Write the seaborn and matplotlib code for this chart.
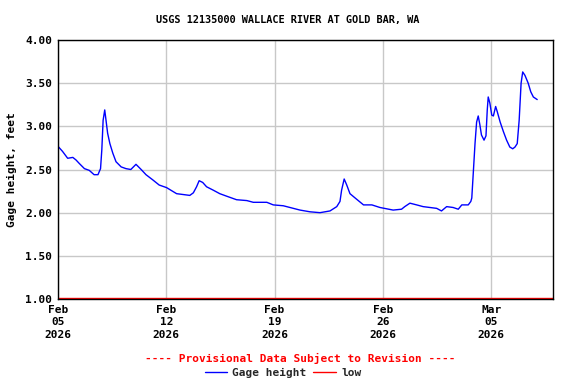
import pandas as pd
import seaborn as sns
import matplotlib.pyplot as plt
import matplotlib.dates as mdates
from matplotlib.lines import Line2D

# Datos (altura de aforo, pies)
fechas = [
    "2026-02-05 01:00", "2026-02-05 07:00", "2026-02-05 15:00", "2026-02-05 23:00",
    "2026-02-06 04:00", "2026-02-06 09:00", "2026-02-06 17:00", "2026-02-07 00:30",
    "2026-02-07 08:00", "2026-02-07 14:00", "2026-02-07 18:00", "2026-02-07 20:00",
    "2026-02-07 22:00", "2026-02-08 00:30", "2026-02-08 02:30", "2026-02-08 05:00",
    "2026-02-08 08:30", "2026-02-08 13:00", "2026-02-08 18:00", "2026-02-09 02:00",
    "2026-02-09 09:30", "2026-02-09 17:00", "2026-02-10 01:00", "2026-02-10 09:00",
    "2026-02-10 16:30", "2026-02-11 03:00", "2026-02-11 13:00", "2026-02-12 00:30",
    "2026-02-12 16:00", "2026-02-13 12:30", "2026-02-13 18:00", "2026-02-13 23:00",
    "2026-02-14 03:00", "2026-02-14 08:30", "2026-02-14 14:30", "2026-02-15 01:00",
    "2026-02-15 11:00", "2026-02-15 22:00", "2026-02-16 13:00", "2026-02-17 05:00",
    "2026-02-17 15:00", "2026-02-18 12:00", "2026-02-18 22:00", "2026-02-19 13:30",
    "2026-02-20 15:30", "2026-02-21 07:00", "2026-02-21 22:30", "2026-02-22 14:00",
    "2026-02-23 00:30", "2026-02-23 05:30", "2026-02-23 08:00", "2026-02-23 12:00",
    "2026-02-23 16:00", "2026-02-23 21:00", "2026-02-24 05:00", "2026-02-24 18:00",
    "2026-02-25 07:00", "2026-02-25 19:30", "2026-02-26 16:00", "2026-02-27 05:00",
    "2026-02-27 10:00", "2026-02-27 18:00", "2026-02-28 04:30", "2026-02-28 14:30",
    "2026-03-01 01:00", "2026-03-01 11:30", "2026-03-01 19:00", "2026-03-02 03:00",
    "2026-03-02 13:00", "2026-03-02 21:00", "2026-03-03 02:30", "2026-03-03 12:30",
    "2026-03-03 16:30", "2026-03-03 18:00", "2026-03-03 20:00", "2026-03-03 23:00",
    "2026-03-04 01:30", "2026-03-04 04:00", "2026-03-04 06:30", "2026-03-04 09:00",
    "2026-03-04 13:00", "2026-03-04 16:00", "2026-03-04 18:00", "2026-03-04 19:30",
    "2026-03-04 22:00", "2026-03-05 01:00", "2026-03-05 03:30", "2026-03-05 07:00",
    "2026-03-05 09:30", "2026-03-05 14:00", "2026-03-05 19:00", "2026-03-06 00:00",
    "2026-03-06 05:00", "2026-03-06 09:30", "2026-03-06 13:00", "2026-03-06 16:30",
    "2026-03-06 19:30", "2026-03-06 22:30", "2026-03-07 01:00", "2026-03-07 04:30",
    "2026-03-07 09:30", "2026-03-07 13:30", "2026-03-07 17:30", "2026-03-07 23:30",
]
altura = [
    2.76, 2.71, 2.63, 2.64, 2.61, 2.57, 2.51, 2.49,
    2.44, 2.44, 2.51, 2.73, 3.07, 3.19, 3.07, 2.92,
    2.80, 2.69, 2.59, 2.53, 2.51, 2.50, 2.56, 2.50,
    2.44, 2.38, 2.32, 2.29, 2.22, 2.20, 2.23, 2.30,
    2.37, 2.35, 2.30, 2.26, 2.22, 2.19, 2.15, 2.14,
    2.12, 2.12, 2.09, 2.08, 2.03, 2.01, 2.00, 2.02,
    2.07, 2.13, 2.26, 2.39, 2.32, 2.22, 2.17, 2.09,
    2.09, 2.06, 2.03, 2.04, 2.07, 2.11, 2.09, 2.07,
    2.06, 2.05, 2.02, 2.07, 2.06, 2.04, 2.09, 2.09,
    2.13, 2.17, 2.42, 2.80, 3.05, 3.12, 3.02, 2.90,
    2.84, 2.89, 3.19, 3.34, 3.27, 3.13, 3.12, 3.23,
    3.17, 3.05, 2.94, 2.84, 2.76, 2.74, 2.76, 2.80,
    3.07, 3.50, 3.63, 3.59, 3.50, 3.40, 3.34, 3.31,
]
fechas_bajo = ["2026-02-05 00:00", "2026-03-09 00:00"]
nivel_bajo = [1.015, 1.015]

ticks_x = ["2026-02-05", "2026-02-12", "2026-02-19", "2026-02-26", "2026-03-05"]
ticks_y = [1.00, 1.50, 2.00, 2.50, 3.00, 3.50, 4.00]

df = pd.DataFrame({"fecha": pd.to_datetime(fechas), "altura": altura})
df_bajo = pd.DataFrame({"fecha": pd.to_datetime(fechas_bajo), "altura": nivel_bajo})

# tema
sns.set_theme(style="whitegrid", rc={"grid.color": "#c8c8c8", "grid.linewidth": 1.0,
                                     "axes.edgecolor": "black", "axes.linewidth": 1.0})
plt.rcParams["font.family"] = ["DejaVu Sans Mono", "DejaVu Sans"]
plt.rcParams["font.weight"] = "bold"

fig = plt.figure(figsize=(5.76, 3.84), dpi=100)
ax = fig.add_axes([58 / 576, 1 - 299 / 384, 495 / 576, 259 / 384])

sns.lineplot(data=df, x="fecha", y="altura", color="#0000ff", linewidth=1.0, ax=ax)
sns.lineplot(data=df_bajo, x="fecha", y="altura", color="#ff0000", linewidth=1.0, ax=ax)

ax.set_xlim(pd.Timestamp("2026-02-05"), pd.Timestamp("2026-03-09"))
ax.set_ylim(1.0, 4.0)
ax.set_xticks(pd.to_datetime(ticks_x))
ax.xaxis.set_major_formatter(mdates.DateFormatter("%b\n%d\n%Y"))
ax.set_yticks(ticks_y)
ax.set_yticklabels([f"{v:.2f}" for v in ticks_y])
ax.tick_params(axis="both", length=0, labelsize=8, colors="black", pad=4)
for lab in ax.get_xticklabels() + ax.get_yticklabels():
    lab.set_fontweight("bold")
    lab.set_linespacing(1.35)

ax.set_xlabel("")
ax.set_ylabel("Gage height, feet", fontsize=8, fontweight="bold", color="black", labelpad=6)
for s in ax.spines.values():
    s.set_visible(True)
    s.set_color("black")

fig.text(0.5, 1 - 20 / 384, "USGS 12135000 WALLACE RIVER AT GOLD BAR, WA",
         ha="center", va="center", fontsize=7.4, fontweight="bold", color="black")
fig.text(300 / 576, 1 - 358 / 384, "---- Provisional Data Subject to Revision ----",
         ha="center", va="center", fontsize=8, fontweight="bold", color="#ff0000")

handles = [Line2D([], [], color="#0000ff", lw=1.0), Line2D([], [], color="#ff0000", lw=1.0)]
fig.legend(handles, ["Gage height", "low"], loc="center", bbox_to_anchor=(283 / 576, 1 - 373 / 384),
           ncol=2, frameon=False, fontsize=8, handlelength=2.0, handletextpad=0.5,
           columnspacing=0.6, borderpad=0, prop={"weight": "bold", "size": 8})

fig.savefig("out.png", dpi=100)
